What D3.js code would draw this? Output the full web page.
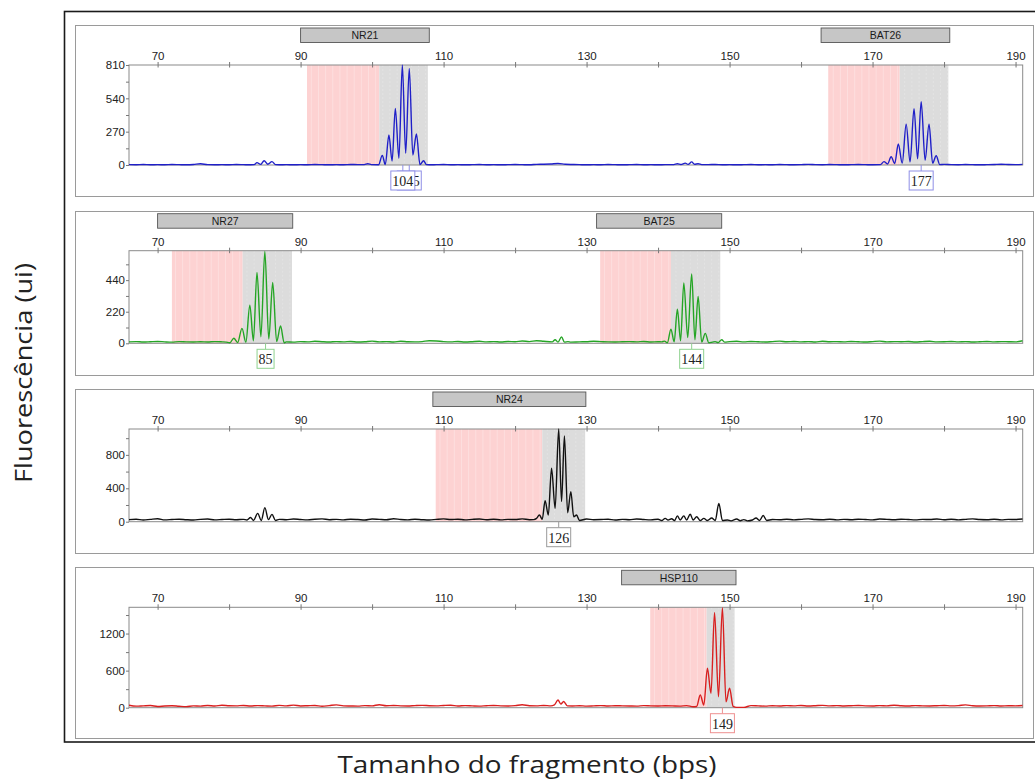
<!DOCTYPE html>
<html><head><meta charset="utf-8">
<script src="https://cdn.jsdelivr.net/npm/d3@7"></script>
<style>body{margin:0;background:#fff} svg{display:block}</style>
</head><body>
<svg id="c" width="1035" height="780"></svg>
<script>
// ---------------- DATA ----------------
const xTickLabels = [70, 90, 110, 130, 150, 170, 190];
const xMinorTicks = [80, 100, 120, 140, 160, 180];
const yMax = [810, 645, 1110, 1625];
const yTickLabels = [[0, 270, 540, 810], [0, 220, 440], [0, 400, 800], [0, 600, 1200]];
const yMinorTicks = [[135, 405, 675], [110, 330, 550], [200, 600, 1000], [300, 900, 1500]];

const markerNames = ["NR21", "BAT26", "NR27", "BAT25", "NR24", "HSP110"];
const markerPanel = [0, 0, 1, 1, 2, 3];
const markerBinStart = [90, 162.8, 70, 131.4, 108.5, 134.9];
const markerBinEnd = [108, 180.8, 88.9, 148.9, 129.9, 150.9];
const pinkStart = [90.9, 163.8, 72, 131.9, 108.9, 138.9];
const grayStart = [101, 173.8, 81.9, 141.8, 123.8, 146.8];
const grayEnd = [107.8, 180.6, 88.8, 148.7, 129.8, 150.7];

const callValues = [105, 104, 177, 85, 144, 126, 149];
const callBp = [105.2, 104.3, 176.8, 85.1, 144.7, 126.1, 149.0];
const callPanel = [0, 0, 0, 1, 1, 2, 3];

// baseline signal sampled at every bp from 66 to 191
const baseStart = 66;
const base1 = [3,2,4,2,3,2,4,3,2,4, 10,3,2,3,2,4,3,2,3,2, 3,2,3,2,3,2,4,3,2,3,
 2,4,3,4,3,2,4,2,3,2, 3,2,2,3,4,2,3,2,3,4, 2,3,2,3,4,3,2,5,6,8,
 12,6,4,3,2,3,2,4,3,2, 3,4,2,3,2,3,4,3,2,3, 2,3,4,2,3,2,3,4,2,3,
 2,4,3,2,3,5,3,2,4,3, 2,3,4,3,2,3,2,3,4,2, 3,2,3,4,5,3,2,4,3,2, 3,4,6,4,3,5];
const base2 = [10,12,9,11,13,10,8,12,10,9, 11,9,12,10,14,10,9,11,10,12, 9,11,10,8,12,10,14,11,9,12,
 10,13,9,11,15,10,12,9,14,11, 10,12,18,16,12,10,13,9,11,14, 10,12,9,13,11,16,12,18,14,12,
 10,9,12,10,11,14,12,10,9,11, 12,10,13,9,11,12,10,11,13,10, 12,9,11,10,12,14,10,13,11,9,
 12,15,11,13,10,12,9,14,11,12, 10,13,11,9,12,15,10,12,11,13, 9,12,14,10,11,13,10,12,9,11, 13,10,12,11,10,18];
const base3 = [25,30,20,28,35,22,26,30,24,20, 28,32,22,26,30,24,28,22,30,26, 20,28,24,32,26,22,30,34,24,28,
 22,30,26,20,32,28,24,36,26,22, 30,24,20,28,34,26,30,22,28,32, 24,30,22,28,26,34,24,30,20,28,
 26,30,22,28,32,24,26,30,20,28, 24,32,26,22,30,28,24,34,26,22, 30,24,28,20,26,32,24,28,22,30,
 26,24,30,22,28,34,26,24,30,22, 28,24,30,26,22,32,28,24,30,26, 22,28,26,32,24,30,22,28,34,26, 24,30,22,28,26,32];
const base4 = [40,25,30,35,20,28,32,24,18,30, 26,35,28,40,32,30,36,28,34,30, 26,38,30,42,28,32,36,24,34,45,
 30,28,26,34,30,48,32,36,30,28, 34,38,32,30,36,40,28,34,30,26, 32,36,30,28,34,48,32,30,36,28,
 30,34,28,32,26,30,34,28,32,30, 28,26,34,30,28,32,30,26,34,28, 30,24,28,32,26,30,28,34,30,26,
 32,28,34,30,36,28,32,38,30,34, 28,32,36,30,28,34,30,40,32,28, 34,30,28,32,36,30,34,45,32,28, 30,34,28,32,30,36];

// peak clusters: [bp, fluorescence]
const peaks1a = [[83.5,3],[83.9,19],[84.4,5],[84.9,35],[85.4,6],[86.0,27],[86.5,3]];
const peaks1b = [[98.9,3],[99.4,10],[99.9,3]];
const peaks1c = [[100.9,2],[101.43,78],[101.85,3],[102.35,243],[102.8,32],[103.25,459],[103.75,54],[104.23,810],[104.7,95],[105.2,783],[105.7,81],[106.2,251],[106.7,3],[107.2,35],[107.6,3]];
const peaks1d = [[142.2,3],[142.7,10],[143.2,4],[143.8,15],[144.2,5],[144.7,25],[145.1,6],[145.6,10],[146.1,3]];
const peaks1e = [[171.1,3],[171.6,27],[172.1,8],[172.6,67],[173.1,12],[173.6,170],[174.15,15],[174.7,330],[175.25,25],[175.8,456],[176.3,50],[176.8,513],[177.35,40],[177.9,330],[178.4,15],[178.9,75],[179.4,3]];
const peaks2a = [[79.6,8],[80.1,4],[80.66,35],[81.2,5],[81.8,104],[82.35,8],[82.9,266],[83.4,18],[83.9,493],[84.45,46],[85.0,640],[85.55,30],[86.1,423],[86.65,12],[87.2,120],[87.7,4]];
const peaks2b = [[125.2,10],[125.6,25],[126.0,8],[126.5,45],[126.9,8],[127.4,12],[127.8,8]];
const peaks2c = [[140.5,10],[140.9,15],[141.3,4],[141.8,99],[142.25,10],[142.7,238],[143.15,18],[143.6,421],[144.15,40],[144.7,483],[145.15,25],[145.6,326],[146.1,8],[146.6,69],[147.1,4],[147.6,8],[148.0,12],[148.4,5],[148.9,25],[149.3,8]];
const peaks3a = [[82.5,20],[83.0,50],[83.4,15],[84.0,100],[84.5,15],[85.0,168],[85.5,25],[86.0,88],[86.5,15]];
const peaks3b = [[122.6,25],[123.0,40],[123.4,80],[123.8,30],[124.2,252],[124.65,80],[125.1,641],[125.6,160],[126.1,1110],[126.5,240],[126.9,1028],[127.35,108],[127.8,360],[128.2,60],[128.6,80],[129.0,15]];
const peaks3c = [[140.5,15],[141.0,40],[141.4,20],[141.9,35],[142.3,15],[142.7,70],[143.1,20],[143.6,70],[144.0,20],[144.5,90],[144.9,20],[145.4,60],[145.9,15],[146.4,40],[146.9,15],[147.5,45],[148.0,15],[148.5,220],[149.0,15],[149.7,20],[150.2,10]];
const peaks3d = [[151.5,12],[152.0,25],[152.5,10],[153.2,20],[153.7,45],[154.2,15],[154.7,75],[155.2,15]];
const peaks4a = [[125.0,30],[125.5,45],[126.0,125],[126.4,60],[126.8,100],[127.3,30]];
const peaks4b = [[144.9,15],[145.4,20],[145.9,206],[146.4,44],[146.9,638],[147.4,233],[147.9,1540],[148.45,178],[149.0,1620],[149.5,97],[150.0,314],[150.5,20],[151.0,5],[152.0,5]];

const panelBase = [base1, base2, base3, base4];
const panelPeaks = [[peaks1a, peaks1b, peaks1c, peaks1d, peaks1e], [peaks2a, peaks2b, peaks2c], [peaks3a, peaks3b, peaks3c, peaks3d], [peaks4a, peaks4b]];

// ---------------- LAYOUT / STYLE ----------------
const traceColor = ["#1f1fc8", "#25a525", "#111111", "#d91f1f"];
const callStroke = ["#8f8fe6", "#8fd28f", "#9a9a9a", "#ee9090"];
const panelBox = [[25, 196], [211, 375], [389, 553], [567, 738]];
const plotTB = [[65, 165], [250.7, 343.3], [429, 521.7], [607.3, 707.7]];
const plotLeft = 129, plotRight = 1022.7;

const svg = d3.select("#c");
const x = d3.scaleLinear().domain([66, 191]).range([plotLeft, plotRight]);

// outer frame
svg.append("rect").attr("x", 64.5).attr("y", 11.5).attr("width", 985).attr("height", 730.5)
  .attr("fill", "none").attr("stroke", "#1a1a1a").attr("stroke-width", 1.6);

function buildTrace(base, clusters) {
  const pts = [];
  base.forEach((v, i) => {
    const bp = baseStart + i;
    const inside = clusters.some(c => bp >= c[0][0] - 0.2 && bp <= c[c.length - 1][0] + 0.2);
    if (!inside) pts.push([bp, v]);
  });
  clusters.forEach(c => c.forEach(p => pts.push(p)));
  pts.sort((a, b) => a[0] - b[0]);
  return pts;
}

for (let p = 0; p < 4; p++) {
  const [top, bot] = plotTB[p];
  const y = d3.scaleLinear().domain([0, yMax[p]]).range([bot, top]);
  const g = svg.append("g");

  g.append("rect").attr("x", 75.5).attr("y", panelBox[p][0] + 0.5).attr("width", 958)
    .attr("height", panelBox[p][1] - panelBox[p][0]).attr("fill", "#fff")
    .attr("stroke", "#9a9a9a").attr("stroke-width", 1);

  // bins
  markerNames.forEach((name, i) => {
    if (markerPanel[i] !== p) return;
    g.append("rect").attr("x", x(pinkStart[i])).attr("y", top)
      .attr("width", x(grayStart[i]) - x(pinkStart[i])).attr("height", bot - top)
      .attr("fill", "#fdd2d2");
    g.append("rect").attr("x", x(grayStart[i])).attr("y", top)
      .attr("width", x(grayEnd[i]) - x(grayStart[i])).attr("height", bot - top)
      .attr("fill", "#dcdcdc");
    d3.range(Math.ceil(pinkStart[i]) + 0.5, grayStart[i], 1).forEach(b => {
      g.append("line").attr("x1", x(b)).attr("x2", x(b)).attr("y1", top).attr("y2", bot)
        .attr("stroke", "#fff").attr("stroke-opacity", 0.28).attr("stroke-width", 1);
    });
    d3.range(Math.ceil(grayStart[i]) + 0.5, grayEnd[i], 1).forEach(b => {
      g.append("line").attr("x1", x(b)).attr("x2", x(b)).attr("y1", top).attr("y2", bot)
        .attr("stroke", "#fff").attr("stroke-opacity", 0.22).attr("stroke-width", 1)
        .attr("stroke-dasharray", "2,2");
    });
    // marker name box
    const bx0 = x(markerBinStart[i]), bx1 = x(markerBinEnd[i]);
    g.append("rect").attr("x", bx0).attr("y", top - 37).attr("width", bx1 - bx0).attr("height", 14.5)
      .attr("fill", "#c6c6c6").attr("stroke", "#555").attr("stroke-width", 0.9);
    g.append("text").attr("x", (bx0 + bx1) / 2).attr("y", top - 25.8).attr("text-anchor", "middle")
      .attr("font-family", "Liberation Sans, Arial, sans-serif").attr("font-size", 10.5)
      .attr("fill", "#1a1a1a").text(name);
  });

  // plot frame
  g.append("rect").attr("x", plotLeft).attr("y", top).attr("width", plotRight - plotLeft)
    .attr("height", bot - top).attr("fill", "none").attr("stroke", "#8a8a8a").attr("stroke-width", 1);

  // x axis (top)
  const xa = g.append("g").attr("transform", `translate(0,${top})`)
    .call(d3.axisTop(x).tickValues(xTickLabels).tickSize(3).tickPadding(2).tickFormat(d3.format("d")));
  const xm = g.append("g").attr("transform", `translate(0,${top})`)
    .call(d3.axisTop(x).tickValues(xMinorTicks).tickSize(3).tickFormat(""));
  [xa, xm].forEach(a => {
    a.select(".domain").remove();
    a.selectAll(".tick line").attr("stroke", "#777").attr("y2", -3);
    a.selectAll(".tick").append("line").attr("y1", 0).attr("y2", 2.5).attr("stroke", "#777");
  });
  xa.selectAll("text").attr("font-family", "Liberation Sans, Arial, sans-serif").attr("font-size", 11.5).attr("fill", "#222");

  // y axis
  const ya = g.append("g").attr("transform", `translate(${plotLeft},0)`)
    .call(d3.axisLeft(y).tickValues(yTickLabels[p]).tickSize(3).tickPadding(1).tickFormat(d3.format("d")));
  const ym = g.append("g").attr("transform", `translate(${plotLeft},0)`)
    .call(d3.axisLeft(y).tickValues(yMinorTicks[p]).tickSize(3).tickFormat(""));
  [ya, ym].forEach(a => { a.select(".domain").remove(); a.selectAll(".tick line").attr("stroke", "#777"); });
  ya.selectAll("text").attr("font-family", "Liberation Sans, Arial, sans-serif").attr("font-size", 11.5).attr("fill", "#222");

  // trace
  const clipId = "clip" + p;
  svg.append("clipPath").attr("id", clipId).append("rect")
    .attr("x", plotLeft).attr("y", top - 1).attr("width", plotRight - plotLeft).attr("height", bot - top + 3);
  const pts = buildTrace(panelBase[p], panelPeaks[p]);
  g.append("path").datum(pts).attr("clip-path", `url(#${clipId})`)
    .attr("d", d3.line().x(d => x(d[0])).y(d => y(d[1])).curve(d3.curveMonotoneX))
    .attr("fill", "none").attr("stroke", traceColor[p]).attr("stroke-width", 1.4)
    .attr("stroke-linejoin", "round");

  // size calls
  callValues.forEach((v, i) => {
    if (callPanel[i] !== p) return;
    const cx = x(callBp[i]);
    g.append("line").attr("x1", cx).attr("x2", cx).attr("y1", bot).attr("y2", bot + 6)
      .attr("stroke", callStroke[p]).attr("stroke-width", 1);
    const t = g.append("text").attr("x", cx).attr("y", bot + 21).attr("text-anchor", "middle")
      .attr("font-family", "Liberation Serif, Times New Roman, serif").attr("font-size", 14)
      .attr("fill", "#222").text(v);
    const w = t.node().getComputedTextLength() + 3;
    g.insert("rect", function () { return t.node(); })
      .attr("x", cx - w / 2).attr("y", bot + 6).attr("width", w).attr("height", 19)
      .attr("fill", "#fff").attr("stroke", callStroke[p]).attr("stroke-width", 1);
  });
}

// axis titles
svg.append("text").attr("transform", "translate(32,373) rotate(-90)")
  .attr("text-anchor", "middle").attr("font-family", "Open Sans, sans-serif").attr("font-size", 23)
  .attr("textLength", 220).attr("lengthAdjust", "spacingAndGlyphs")
  .attr("fill", "#222").text("Fluorescência (ui)");
svg.append("text").attr("x", 527).attr("y", 773)
  .attr("text-anchor", "middle").attr("font-family", "Open Sans, sans-serif").attr("font-size", 23)
  .attr("textLength", 379).attr("lengthAdjust", "spacingAndGlyphs")
  .attr("fill", "#222").text("Tamanho do fragmento (bps)");
</script>
</body></html>
